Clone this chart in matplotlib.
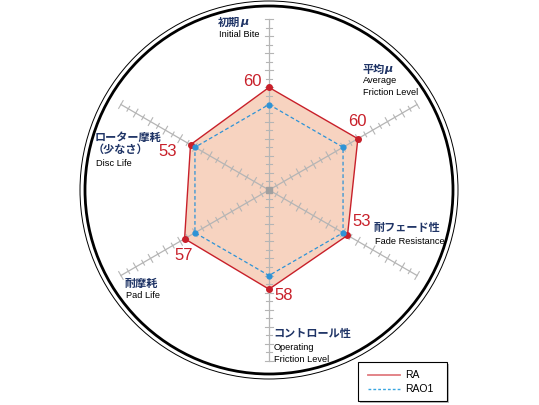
import numpy as np
import matplotlib
matplotlib.use("Agg")
import matplotlib.pyplot as plt
from matplotlib.patches import Circle, Rectangle

# ---- data ----
labels_jp = ["初期μ", "平均μ", "耐フェード性", "コントロール性", "耐摩耗", "ローター摩耗\n（少なさ）"]
labels_en = ["Initial Bite", "Average\nFriction Level", "Fade Resistance",
             "Operating\nFriction Level", "Pad Life", "Disc Life"]
ra_values = [60, 60, 53, 58, 57, 53]
ra01_values = [50, 50, 50, 50, 50, 50]
series_names = ["RA", "RAO1"]
r_max = 100
tick_step = 5

plt.rcParams['font.family'] = ['Liberation Sans', 'Noto Sans CJK JP', 'DejaVu Sans']

W, H, DPI = 539, 405, 100
PX = 1.71            # pixels per value unit
cx, cy = 269, 190    # centre in pixels (from top-left)

fig = plt.figure(figsize=(W / DPI, H / DPI), dpi=DPI)
ax = fig.add_axes([0, 0, 1, 1])
ax.set_xlim(-cx / PX, (W - cx) / PX)
ax.set_ylim(-(H - cy) / PX, cy / PX)
ax.set_aspect('equal')
ax.axis('off')

angles = np.deg2rad([90, 30, -30, -90, -150, 150])
ux, uy = np.cos(angles), np.sin(angles)

# outer double circle
ax.add_patch(Circle((0, 0), 184 / PX, fill=False, ec='black', lw=2.0, zorder=1))
ax.add_patch(Circle((0, 0), 189 / PX, fill=False, ec='black', lw=0.7, zorder=1))

# polygon fill for RA (under spokes)
rx = np.array(ra_values) * ux
ry = np.array(ra_values) * uy
ax.fill(np.append(rx, rx[0]), np.append(ry, ry[0]), color='#f7d3c0', zorder=2, lw=0)

# spokes with ticks
spoke_c = '#b5b5b5'
for a_x, a_y in zip(ux, uy):
    ax.plot([0, r_max * a_x], [0, r_max * a_y], color=spoke_c, lw=0.9, zorder=3)
    px, py = -a_y, a_x
    for r in range(tick_step, r_max + 1, tick_step):
        h = 2.6 if r % 10 == 0 else 1.6
        bx, by = r * a_x, r * a_y
        ax.plot([bx - h * px, bx + h * px], [by - h * py, by + h * py],
                color=spoke_c, lw=0.8, zorder=3)
ax.plot([0], [0], marker='s', ms=4, color='#a0a0a0', zorder=4)

# RA outline + markers
red = '#c8202a'
ax.plot(np.append(rx, rx[0]), np.append(ry, ry[0]), color=red, lw=1.0, zorder=5)
ax.plot(rx, ry, 'o', color=red, ms=4, zorder=6)

# RA01
blue = '#2e93d6'
bx_ = np.array(ra01_values) * ux
by_ = np.array(ra01_values) * uy
ax.plot(np.append(bx_, bx_[0]), np.append(by_, by_[0]), color=blue, lw=0.9,
        ls=(0, (3, 2)), zorder=5)
ax.plot(bx_, by_, 'o', color=blue, ms=3.5, zorder=6)

def P(x, y):
    """pixel (top-left origin) -> data coords"""
    return (x - cx) / PX, (cy - y) / PX

navy = '#1f3466'
# value labels (pixel positions for text centres)
val_pos = [(252, 82), (357, 121), (362, 222), (284, 296), (184, 256), (168, 151)]
for v, (x, y) in zip(ra_values, val_pos):
    ax.text(*P(x, y), str(v), color=red, fontsize=12, ha='center', va='center', zorder=7)

# axis labels: (jp x-left, jp y-centre, en y-top)
lab_pos = [(218, 22, 30), (362, 69, 76), (374, 228, 237), (273, 334, 343), (125, 283, 291), (95, 137, 159)]
jp_kw = dict(color=navy, fontsize=8, fontweight='bold', ha='left', va='center', zorder=7)
for jp, en, (x, y, ye) in zip(labels_jp, labels_en, lab_pos):
    if "\n" in jp:
        l1, l2 = jp.split("\n")
        ax.text(*P(x, y), l1, family=['Noto Sans CJK JP'], **jp_kw)
        ax.text(*P(x - 2, y + 12), l2, family=['Noto Sans CJK JP'], **jp_kw)
    elif jp.endswith("μ"):
        base = jp[:-1]
        ax.text(*P(x, y), base, family=['Noto Sans CJK JP'], **jp_kw)
        ax.text(*P(x + 11 * len(base) + 0.5, y), "μ", family=['DejaVu Sans'],
                style='italic', **jp_kw)
    else:
        ax.text(*P(x, y), jp, family=['Noto Sans CJK JP', 'DejaVu Sans'], **jp_kw)
    ax.text(*P(x + 1, ye), en, color='black', fontsize=6.7, ha='left', va='top',
            linespacing=1.45, zorder=7)

# legend box
lx0, ly0, lx1, ly1 = 358, 362, 447, 401
ax.add_patch(Rectangle(P(lx0 + 2, ly1 + 2), (lx1 - lx0) / PX, (ly1 - ly0) / PX,
                       fc='#bbbbbb', ec='none', zorder=8))
ax.add_patch(Rectangle(P(lx0, ly1), (lx1 - lx0) / PX, (ly1 - ly0) / PX,
                       fc='white', ec='black', lw=0.8, zorder=9))
ax.plot(*zip(P(368, 375), P(400, 375)), color='#e07b7f', lw=1.3, zorder=10)
ax.plot(*zip(P(368, 389), P(400, 389)), color='#3aa6e0', lw=1.0, ls=(0, (2, 1.5)), zorder=10)
ax.text(*P(405, 375), series_names[0], fontsize=7.5, ha='left', va='center', zorder=10)
ax.text(*P(405, 389), series_names[1], fontsize=7.5, ha='left', va='center', zorder=10)

fig.savefig("out.png", dpi=DPI)
